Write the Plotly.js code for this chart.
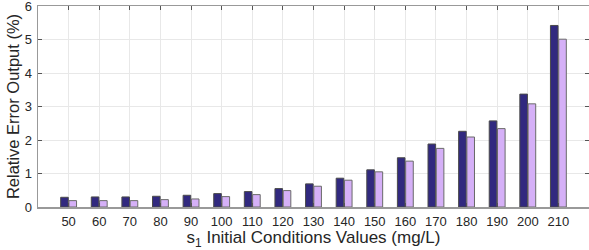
<!DOCTYPE html>
<html><head><meta charset="utf-8">
<script src="https://cdn.plot.ly/plotly-3.0.1.min.js"></script>
<style>html,body{margin:0;padding:0;background:#fff}#chart{width:589px;height:250px}</style>
</head><body><div id="chart"></div>
<script>
const categories = [50,60,70,80,90,100,110,120,130,140,150,160,170,180,190,200,210];
const seriesA = [0.29,0.30,0.30,0.32,0.35,0.40,0.46,0.55,0.69,0.86,1.11,1.47,1.88,2.26,2.57,3.37,5.42];
const seriesB = [0.19,0.19,0.19,0.22,0.24,0.31,0.37,0.49,0.62,0.80,1.05,1.37,1.75,2.09,2.34,3.08,5.01];
const yTicks = [0,1,2,3,4,5,6];

const font = {family:'Liberation Sans, Arial, sans-serif', color:'#262626'};
const traces = [
  {type:'bar', x:categories, y:seriesA, name:'A', marker:{color:'#31297f', line:{color:'#4a4a4a', width:1}}},
  {type:'bar', x:categories, y:seriesB, name:'B', marker:{color:'#d5b0f7', line:{color:'#6a6a6a', width:1}}}
];
const layout = {
  width:589, height:250,
  margin:{l:38, r:0, t:6, b:43},
  paper_bgcolor:'#fff', plot_bgcolor:'#fff',
  showlegend:false,
  barmode:'group', bargap:0.46, bargroupgap:0.08,
  font:Object.assign({size:13}, font),
  xaxis:{
    range:[40,220], tickvals:categories, ticktext:categories.map(String),
    ticks:'inside', ticklen:4, tickcolor:'#555', mirror:'ticks',
    showline:true, linecolor:'#999', linewidth:1.5,
    showgrid:true, gridcolor:'#e8e8e8', zeroline:false,
    tickfont:{size:13}, ticklabelstandoff:2,
    title:{text:'s<sub>1</sub> Initial Conditions Values (mg/L)', font:{size:17}, standoff:0}
  },
  yaxis:{
    range:[0,6.001], tickvals:yTicks, ticktext:yTicks.map(String), ticklabeloverflow:'allow',
    ticks:'inside', ticklen:4, tickcolor:'#555', mirror:'ticks',
    showline:true, linecolor:'#999', linewidth:1.5,
    showgrid:true, gridcolor:'#e8e8e8', zeroline:false,
    tickfont:{size:13}, ticklabelstandoff:2,
    title:{text:'Relative Error Output (%)', font:{size:16.5}, standoff:1}
  }
};
Plotly.newPlot('chart', traces, layout, {displayModeBar:false, staticPlot:true});
</script></body></html>
